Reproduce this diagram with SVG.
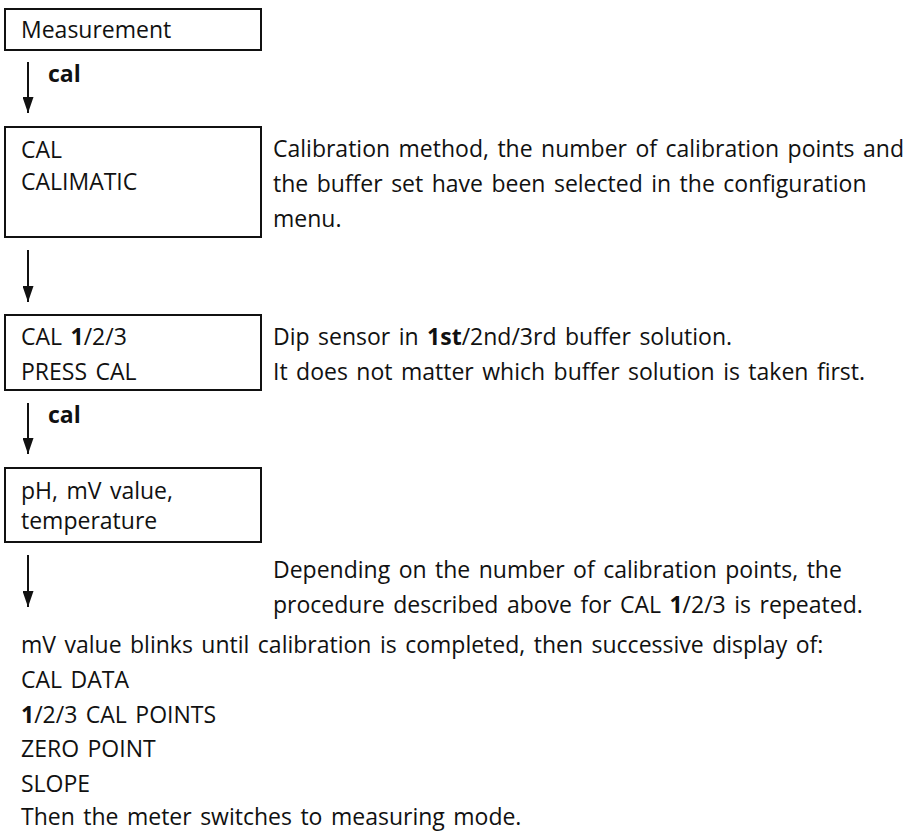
<svg xmlns="http://www.w3.org/2000/svg" width="917" height="831" viewBox="0 0 917 831">
<style>
text{font-family:"Open Sans","Liberation Sans",sans-serif;font-size:23px;word-spacing:2.5px;fill:#111}
.b{font-weight:bold}
.box{fill:#fff;stroke:#111;stroke-width:2}
.con{stroke:#111;stroke-width:2;fill:none}
</style>
<defs>
<marker id="ah" viewBox="0 0 16 11" refX="16" refY="5.5" markerWidth="16" markerHeight="11" markerUnits="userSpaceOnUse" orient="auto">
<path d="M0,0 L16,5.5 L0,11 Z" fill="#111"/>
</marker>
</defs>
<rect width="917" height="831" fill="#fff"/>
<g id="n1">
<rect class="box" x="5" y="9" width="256" height="41"/>
<text x="21" y="38">Measurement</text>
</g>
<g id="n2">
<rect class="box" x="5" y="127" width="256" height="110"/>
<text x="21" y="158">CAL</text>
<text x="21" y="190">CALIMATIC</text>
</g>
<g id="n3">
<rect class="box" x="5" y="315" width="256" height="75"/>
<text x="21" y="345">CAL <tspan class="b">1</tspan>/2/3</text>
<text x="21" y="380">PRESS CAL</text>
</g>
<g id="n4">
<rect class="box" x="5" y="468" width="256" height="74"/>
<text x="21" y="499">pH, mV value,</text>
<text x="21" y="529">temperature</text>
</g>
<g id="connectors">
<line class="con" x1="28" y1="62" x2="28" y2="113" marker-end="url(#ah)"/>
<line class="con" x1="28" y1="250" x2="28" y2="302" marker-end="url(#ah)"/>
<line class="con" x1="28" y1="403" x2="28" y2="454" marker-end="url(#ah)"/>
<line class="con" x1="28" y1="555" x2="28" y2="607" marker-end="url(#ah)"/>
<text class="b" x="48" y="82">cal</text>
<text class="b" x="48" y="423">cal</text>
</g>
<g id="notes">
<text x="273" y="157">Calibration method, the number of calibration points and</text>
<text x="273" y="192">the buffer set have been selected in the configuration</text>
<text x="273" y="227">menu.</text>
<text x="273" y="345">Dip sensor in <tspan class="b">1st</tspan>/2nd/3rd buffer solution.</text>
<text x="273" y="380">It does not matter which buffer solution is taken first.</text>
<text x="273" y="578">Depending on the number of calibration points, the</text>
<text x="273" y="613">procedure described above for CAL <tspan class="b">1</tspan>/2/3 is repeated.</text>
<text x="21" y="653">mV value blinks until calibration is completed, then successive display of:</text>
<text x="21" y="688">CAL DATA</text>
<text x="21" y="723"><tspan class="b">1</tspan>/2/3 CAL POINTS</text>
<text x="21" y="757">ZERO POINT</text>
<text x="21" y="792">SLOPE</text>
<text x="21" y="825">Then the meter switches to measuring mode.</text>
</g>
</svg>
